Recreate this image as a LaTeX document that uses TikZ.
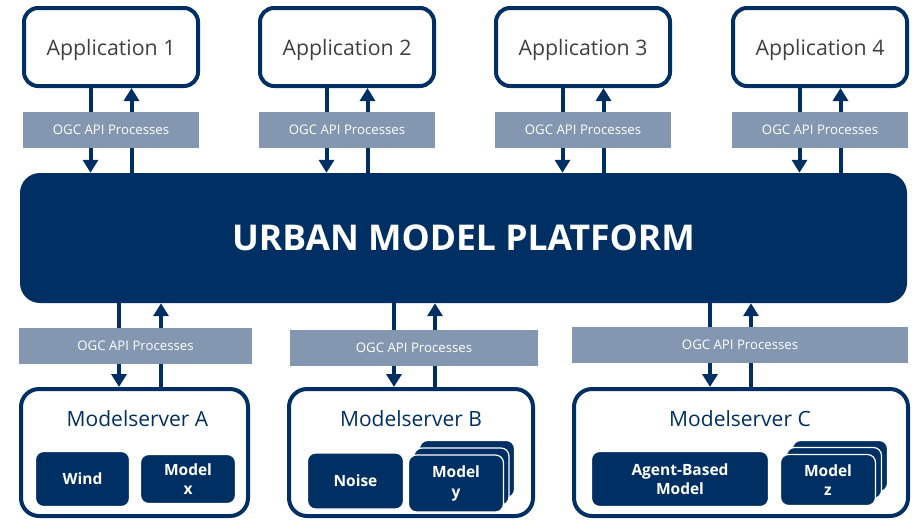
\documentclass[tikz,border=0pt]{standalone}
\usepackage{fontspec}
\setmainfont{Open Sans}
\usetikzlibrary{arrows.meta}
\definecolor{navy}{HTML}{003063}
\definecolor{ogc}{HTML}{8497B0}
\definecolor{apptext}{HTML}{404040}
\begin{document}
\begin{tikzpicture}[x=1pt,y=-1pt,
  appbox/.style={draw=navy,line width=4pt,rounded corners=14pt,fill=white,
    minimum width=174pt,minimum height=78pt,inner sep=0pt,text=apptext,
    text height=17pt,text depth=0pt,
    font=\fontsize{21.3}{25}\selectfont},
  ogcbox/.style={fill=ogc,draw=none,inner sep=0pt,minimum height=36pt,text=white,
    font=\fontsize{13.2}{16}\selectfont},
  platbox/.style={fill=navy,draw=none,rounded corners=20pt,inner sep=0pt,
    minimum width=887pt,minimum height=130pt,text=white,
    font=\fontsize{35.5}{42}\selectfont\bfseries},
  serverbox/.style={draw=navy,line width=4pt,rounded corners=18pt,fill=white,
    minimum height=127pt,inner sep=0pt},
  servertitle/.style={inner sep=0pt,text=navy,font=\fontsize{21}{25}\selectfont},
  modelbox/.style={fill=navy,draw=white,line width=1.2pt,rounded corners=8pt,inner sep=0pt,
    text=white,align=center,font=\fontsize{15.5}{19.5}\selectfont\bfseries},
  arr/.style={draw=navy,line width=4pt,-{Triangle[width=15pt,length=13pt]}}
]
\useasboundingbox (0,0) rectangle (917,520);
% platform
\node[platbox] (plat) at (463.5,238) {URBAN MODEL PLATFORM};
% applications
\foreach \n/\x in {1/111,2/347,3/583,4/820}{
  \node[appbox] (app\n) at (\x,47) {Application \n};
}
\foreach \n/\x in {1/111,2/347,3/583,4/820}{
  \coordinate (d\n) at ([xshift=-20.5pt]app\n.south);
  \coordinate (u\n) at ([xshift=20.5pt]app\n.south);
  \draw[arr] (d\n) -- (d\n |- plat.north);
  \draw[arr] (u\n |- plat.north) -- (u\n);
  \node[ogcbox,minimum width=176pt] (ogc\n) at (\x,129.5) {OGC API Processes};
}
% model servers
\node[serverbox,minimum width=227pt] (msA) at (134.5,452.5) {};
\node[serverbox,minimum width=244pt] (msB) at (411,452.5) {};
\node[serverbox,minimum width=334pt] (msC) at (741,452.5) {};
\node[servertitle] (tA) at (137.5,419) {Modelserver A};
\node[servertitle] (tB) at (411,419) {Modelserver B};
\node[servertitle] (tC) at (740,419) {Modelserver C};
% lower arrows
\foreach \s/\a/\b in {A/119/161,B/394/435,C/710/751}{
  \coordinate (dd\s) at (\a,389);
  \coordinate (uu\s) at (\b,389);
  \draw[arr] (dd\s |- plat.south) -- (dd\s |- ms\s.north);
  \draw[arr] (uu\s |- ms\s.north) -- (uu\s |- plat.south);
}
\node[ogcbox,minimum width=233pt] (ogcA) at (135.5,346) {OGC API Processes};
\node[ogcbox,minimum width=248pt] (ogcB) at (414,347.5) {OGC API Processes};
\node[ogcbox,minimum width=336pt] (ogcC) at (740,345) {OGC API Processes};
% inner models A
\node[modelbox,minimum width=94pt,minimum height=55pt] (wind) at (82.5,479) {Wind};
\node[modelbox,minimum width=95pt,minimum height=49pt] (mx) at (188,479) {Model\\x};
% inner models B
\node[modelbox,minimum width=96pt,minimum height=56pt] (noise) at (355.5,481) {Noise};
\node[modelbox,minimum width=95pt,minimum height=57pt] (myb) at (467,469) {};
\node[modelbox,minimum width=95pt,minimum height=57pt] (mym) at (461.5,476.5) {};
\node[modelbox,minimum width=95pt,minimum height=57pt] (my) at (456,483.5) {Model\\y};
% inner models C
\node[modelbox,minimum width=177pt,minimum height=55pt] (abm) at (680,479) {Agent-Based\\Model};
\node[modelbox,minimum width=95pt,minimum height=51pt] (mzb) at (840,466) {};
\node[modelbox,minimum width=95pt,minimum height=51pt] (mzm) at (834,473) {};
\node[modelbox,minimum width=95pt,minimum height=51pt] (mz) at (828,480) {Model\\z};
\end{tikzpicture}
\end{document}
